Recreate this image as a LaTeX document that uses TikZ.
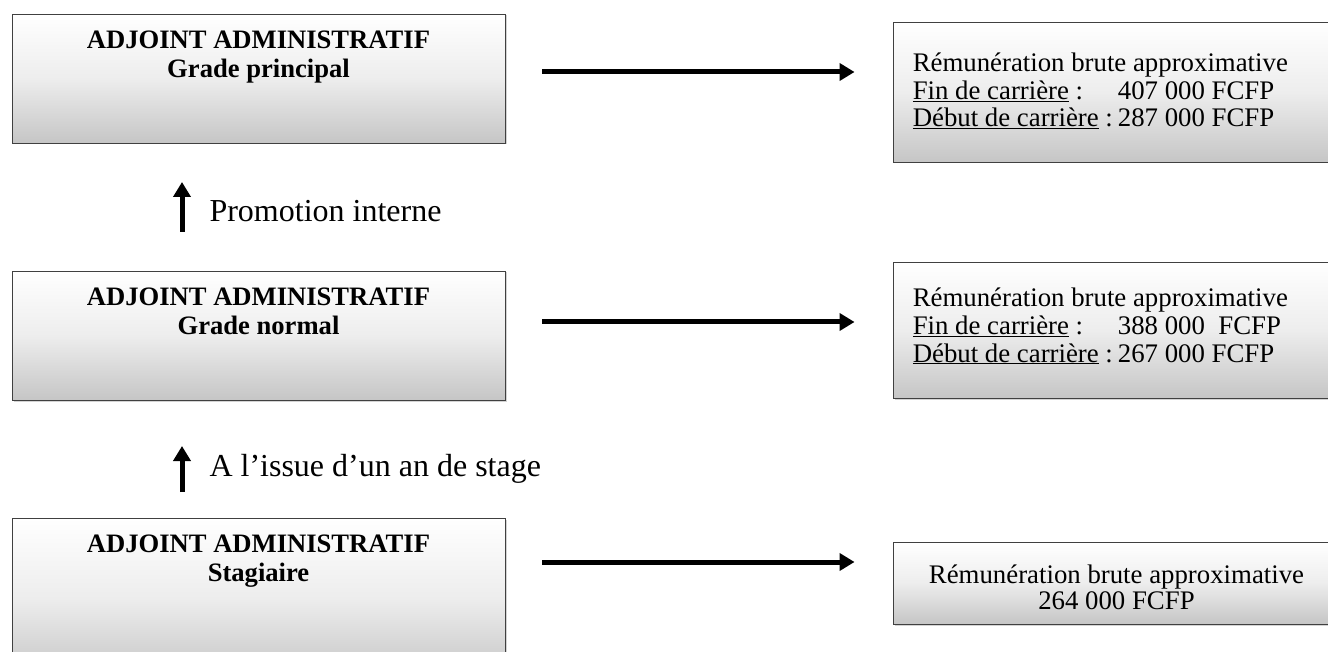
\documentclass[tikz,border=0pt]{standalone}
\usepackage{fontspec}
\setmainfont{Liberation Serif}
\usetikzlibrary{arrows.meta,positioning,calc,shadows}

\begin{document}
\begin{tikzpicture}[x=1pt,y=-1pt,
  gradebox/.style={draw=black!75,line width=0.9pt,minimum width=493pt,
    top color=white,bottom color=gray!45,middle color=gray!14,
    drop shadow={shadow xshift=1.5pt,shadow yshift=-1.5pt,opacity=0.35}},
  paybox/.style={gradebox,minimum width=447pt},
  fatarrow/.style={line width=5pt,-{Triangle[length=15pt,width=17pt]}}]
\useasboundingbox (0,0) rectangle (1328,652);
% grades on the left
\node[gradebox,minimum height=129pt] (principal) at (258.5,78.5) {};
\node[gradebox,minimum height=129pt] (normal) at (258.5,335.5) {};
\node[gradebox,minimum height=160pt] (stagiaire) at (258.5,598) {};
\foreach \g/\t in {principal/Grade principal, normal/Grade normal, stagiaire/Stagiaire}
  \node[anchor=north,align=center,font=\fontsize{26.6}{28.5}\selectfont\bfseries]
    (\g-txt) at ([yshift=-14pt]\g.north) {ADJOINT ADMINISTRATIF\\\t};
% pay on the right
\node[paybox,minimum height=140pt] (payP) at (1116.5,92) {};
\node[paybox,minimum height=136pt] (payN) at (1116.5,330) {};
\node[paybox,minimum height=82pt] (payS) at (1116.5,583) {};
\node[anchor=west,font=\fontsize{26.8}{27.5}\selectfont,inner sep=0pt] (payP-txt)
  at ([xshift=20pt,yshift=-2pt]payP.west)
  {\begin{tabular}{@{}l@{\hspace{5pt}}l@{}}
   \multicolumn{2}{@{}l@{}}{Rémunération brute approximative}\\
   \underline{Fin de carrière} : & 407 000 FCFP\\
   \underline{Début de carrière} : & 287 000 FCFP\end{tabular}};
\node[anchor=west,font=\fontsize{26.8}{27.5}\selectfont,inner sep=0pt] (payN-txt)
  at ([xshift=20pt,yshift=1pt]payN.west)
  {\begin{tabular}{@{}l@{\hspace{5pt}}l@{}}
   \multicolumn{2}{@{}l@{}}{Rémunération brute approximative}\\
   \underline{Fin de carrière} : & 388 000\ \ FCFP\\
   \underline{Début de carrière} : & 267 000 FCFP\end{tabular}};
\node[align=center,font=\fontsize{26.8}{26}\selectfont] (payS-txt)
  at ([yshift=-4pt]payS.center) {Rémunération brute approximative\\264 000 FCFP};
% arrows
\foreach \a/\b/\y in {principal/payP/72, normal/payN/322, stagiaire/payS/562}
  \draw[fatarrow] ([xshift=37pt]\a.east |- 0,\y) coordinate (\a-out)
    -- ([xshift=-38pt]\b.west |- 0,\y) coordinate (\b-in);
\coordinate (up1) at (182,232);
\coordinate (up2) at (182,492);
\draw[fatarrow] (up1) -- ++(0,-50) coordinate (up1-tip);
\draw[fatarrow] (up2) -- ++(0,-46) coordinate (up2-tip);
\node[anchor=west,font=\fontsize{32}{38}\selectfont] (promo) at (206,211) {Promotion interne};
\node[anchor=west,font=\fontsize{32}{38}\selectfont] (stage) at (206,469) {A l’issue d’un an de stage};
\end{tikzpicture}
\end{document}
